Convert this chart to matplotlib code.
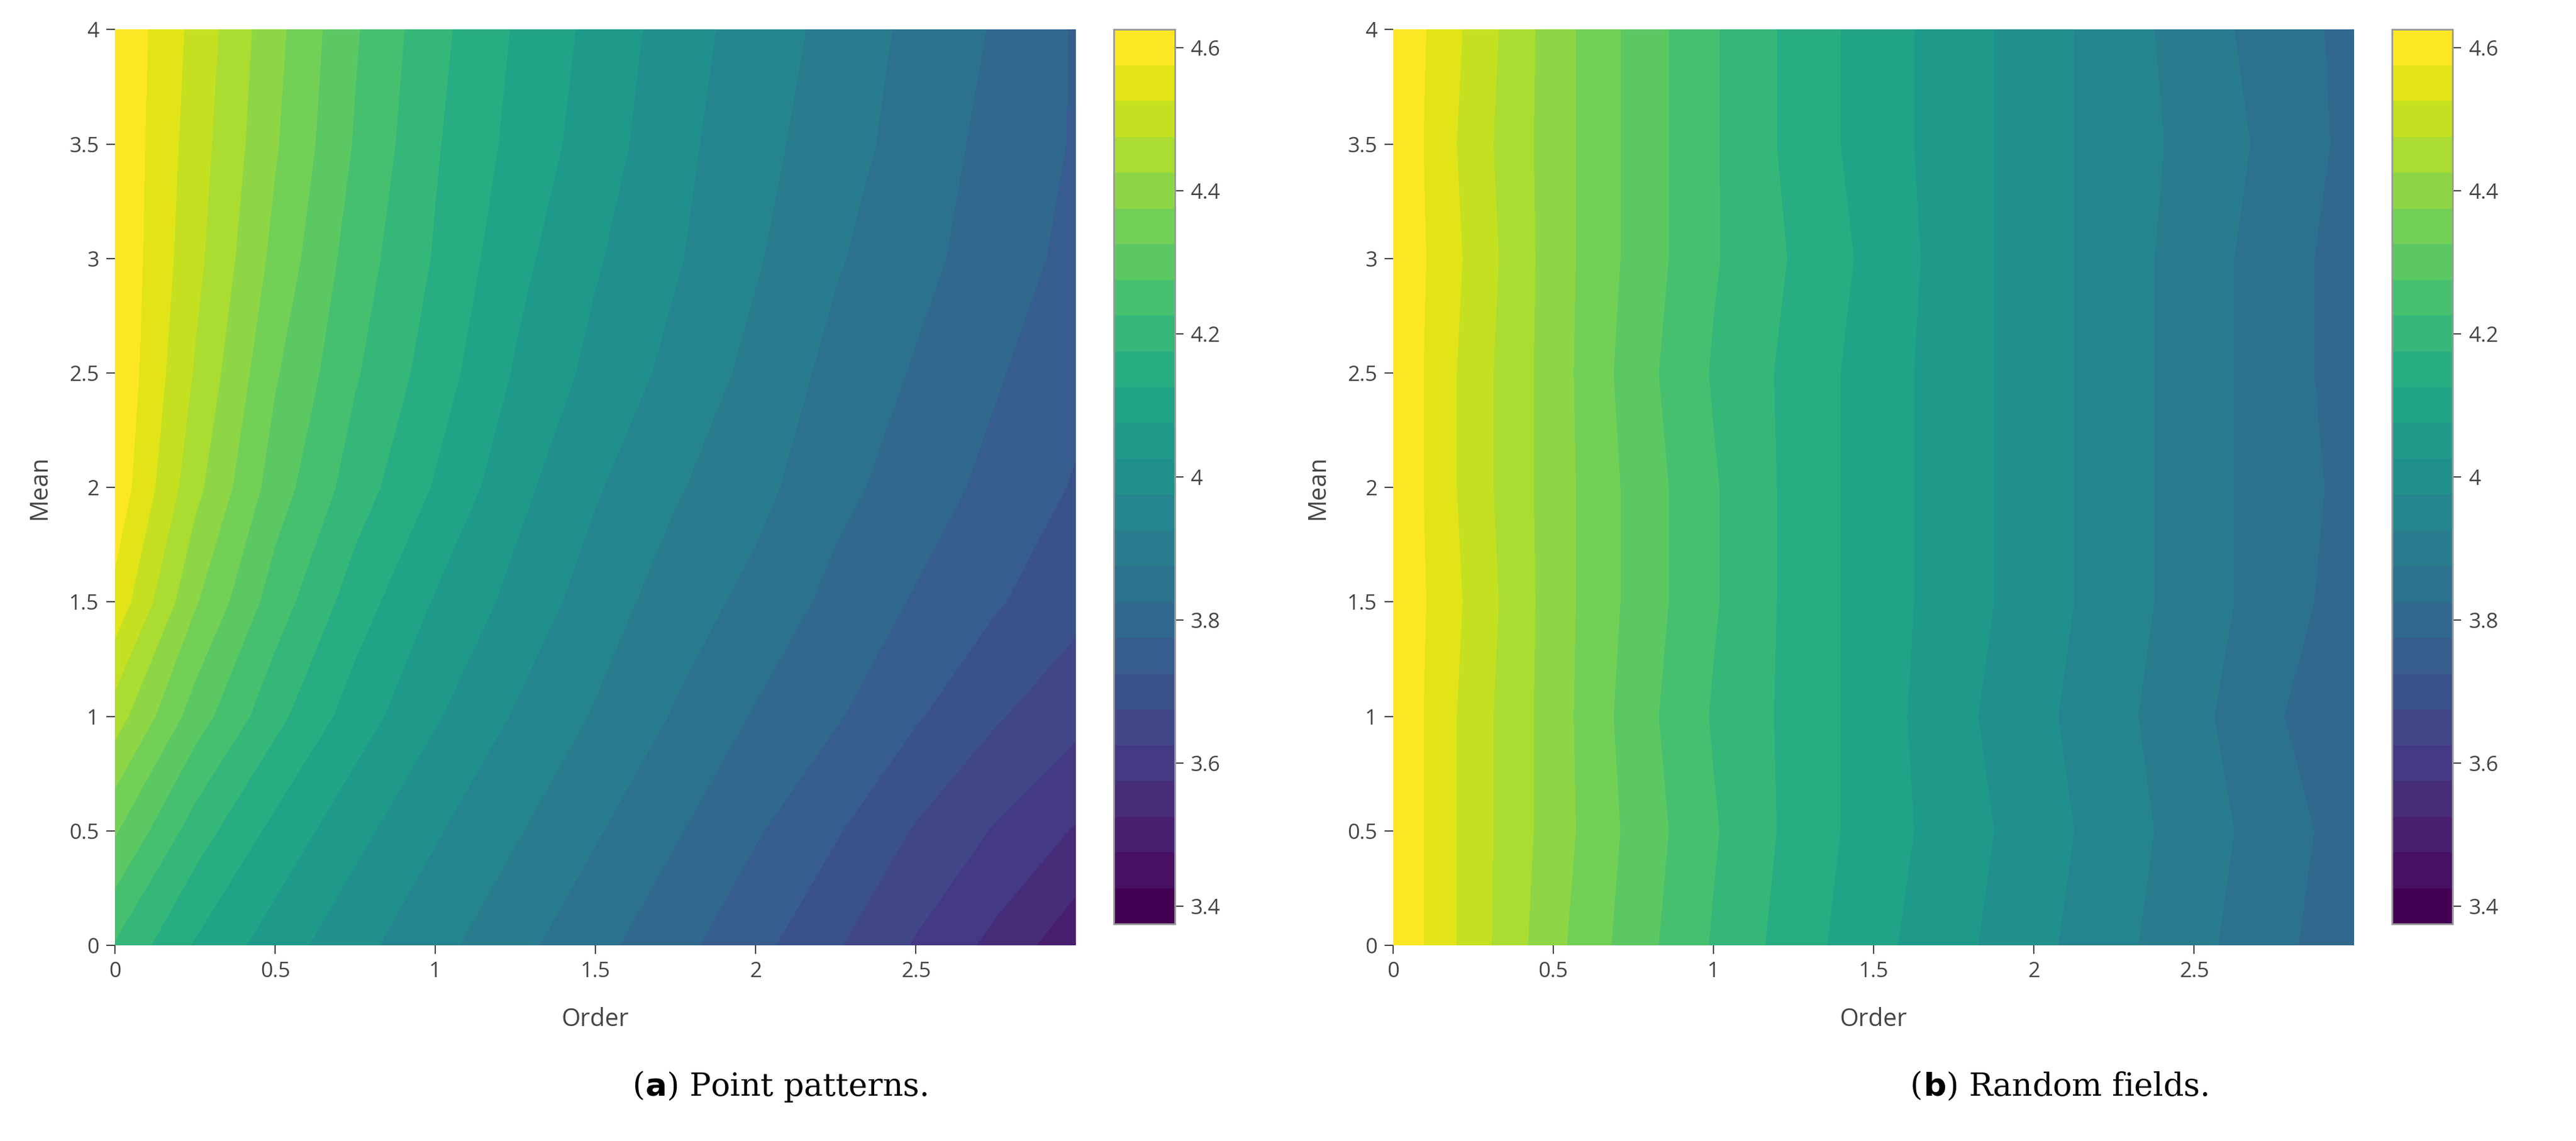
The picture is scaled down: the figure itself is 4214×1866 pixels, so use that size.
import numpy as np
import matplotlib
matplotlib.use("Agg")
import matplotlib.pyplot as plt
from matplotlib.colors import BoundaryNorm
from matplotlib.ticker import FixedLocator, FuncFormatter, NullLocator

order = [0, 0.25, 0.5, 0.75, 1.0, 1.25, 1.5, 1.75, 2.0, 2.25, 2.5, 2.75, 3.0]
mean = [0, 0.5, 1.0, 1.5, 2.0, 2.5, 3.0, 3.5, 4.0]

# rows = mean, cols = order
z_points = [
    [4.22, 4.12, 4.05, 3.99, 3.94, 3.89, 3.84, 3.79, 3.74, 3.68, 3.62, 3.56, 3.49],
    [4.33, 4.20, 4.11, 4.04, 3.98, 3.93, 3.88, 3.83, 3.78, 3.73, 3.67, 3.62, 3.57],
    [4.45, 4.30, 4.19, 4.10, 4.03, 3.97, 3.92, 3.87, 3.82, 3.78, 3.73, 3.68, 3.64],
    [4.56, 4.38, 4.25, 4.15, 4.07, 4.01, 3.95, 3.90, 3.86, 3.81, 3.77, 3.73, 3.69],
    [4.61, 4.44, 4.30, 4.20, 4.12, 4.04, 3.98, 3.93, 3.89, 3.84, 3.80, 3.76, 3.72],
    [4.62, 4.47, 4.33, 4.23, 4.15, 4.07, 4.01, 3.96, 3.91, 3.86, 3.82, 3.78, 3.74],
    [4.62, 4.49, 4.36, 4.25, 4.17, 4.09, 4.03, 3.98, 3.93, 3.88, 3.84, 3.80, 3.76],
    [4.62, 4.50, 4.38, 4.27, 4.18, 4.11, 4.05, 3.99, 3.94, 3.90, 3.85, 3.81, 3.77],
    [4.62, 4.51, 4.39, 4.28, 4.19, 4.12, 4.06, 4.00, 3.95, 3.91, 3.86, 3.82, 3.77],
]
z_fields = [
    [4.62, 4.50, 4.39, 4.30, 4.22, 4.15, 4.09, 4.04, 3.99, 3.94, 3.89, 3.84, 3.79],
    [4.62, 4.50, 4.40, 4.31, 4.23, 4.16, 4.10, 4.05, 4.00, 3.95, 3.90, 3.85, 3.80],
    [4.62, 4.50, 4.40, 4.30, 4.22, 4.16, 4.10, 4.04, 3.99, 3.94, 3.89, 3.83, 3.79],
    [4.62, 4.51, 4.40, 4.31, 4.23, 4.16, 4.10, 4.05, 4.00, 3.95, 3.90, 3.85, 3.80],
    [4.62, 4.50, 4.40, 4.31, 4.23, 4.16, 4.10, 4.05, 4.00, 3.95, 3.90, 3.85, 3.81],
    [4.62, 4.50, 4.40, 4.30, 4.22, 4.16, 4.10, 4.05, 4.00, 3.95, 3.90, 3.85, 3.80],
    [4.62, 4.51, 4.40, 4.31, 4.23, 4.17, 4.11, 4.05, 4.00, 3.95, 3.90, 3.85, 3.80],
    [4.62, 4.50, 4.40, 4.31, 4.23, 4.16, 4.10, 4.05, 4.00, 3.95, 3.91, 3.86, 3.81],
    [4.62, 4.51, 4.40, 4.31, 4.23, 4.16, 4.10, 4.05, 4.00, 3.95, 3.90, 3.85, 3.81],
]
levels = np.arange(3.375, 4.626, 0.05)
cbar_ticks = [3.4, 3.6, 3.8, 4.0, 4.2, 4.4, 4.6]
xticks = [0, 0.5, 1, 1.5, 2, 2.5]
xticklabels = ["0", "0.5", "1", "1.5", "2", "2.5"]
yticks = [0, 0.5, 1, 1.5, 2, 2.5, 3, 3.5, 4]
yticklabels = ["0", "0.5", "1", "1.5", "2", "2.5", "3", "3.5", "4"]

plt.rcParams['font.family'] = ['Open Sans', 'DejaVu Sans']
W, H = 1568, 694
fig = plt.figure(figsize=(16.856, 7.464), dpi=250)
gray = "#444444"

def rect(x0, y0, x1, y1):
    return [x0 / W, 1 - y1 / H, (x1 - x0) / W, (y1 - y0) / H]

cmap = plt.get_cmap("viridis")
for off, z, lab, txt in [(0, z_points, "a", "Point patterns."), (778, z_fields, "b", "Random fields.")]:
    norm = BoundaryNorm(levels, cmap.N)
    ax = fig.add_axes(rect(70 + off, 18, 655 + off, 575))
    cs = ax.contourf(order, mean, np.array(z), levels=levels, cmap=cmap, norm=norm)
    ax.set_xlim(0, 3)
    ax.set_ylim(0, 4)
    ax.set_xticks(xticks, xticklabels)
    ax.set_yticks(yticks, yticklabels)
    ax.tick_params(colors=gray, labelsize=10, length=4, width=0.6)
    for s in ax.spines.values():
        s.set_visible(False)
    ax.set_xlabel("Order", color=gray, fontsize=11.5, labelpad=12)
    ax.set_ylabel("Mean", color=gray, fontsize=11.5, labelpad=8)
    cax = fig.add_axes(rect(678 + off, 18, 715 + off, 562))
    cb = fig.colorbar(cs, cax=cax)
    cb.ax.yaxis.set_major_locator(FixedLocator(cbar_ticks))
    cb.ax.yaxis.set_major_formatter(FuncFormatter(lambda v, p: f"{v:.1f}".rstrip("0").rstrip(".")))
    cb.ax.yaxis.set_minor_locator(NullLocator())
    cb.ax.tick_params(colors=gray, labelsize=10, length=4, width=0.6)
    cb.outline.set_edgecolor("#999999")
    cb.outline.set_linewidth(0.8)
    cx = (70 + 715) / 2 + off
    fig.text(cx / W, 1 - 661 / H, "(", ha="right", va="center", fontsize=15, family="DejaVu Serif")
    fig.text(cx / W, 1 - 661 / H, r"$\mathbf{" + lab + "}$) " + txt, ha="left", va="center",
             fontsize=15, family="DejaVu Serif")

fig.savefig("out.png", dpi=250)
